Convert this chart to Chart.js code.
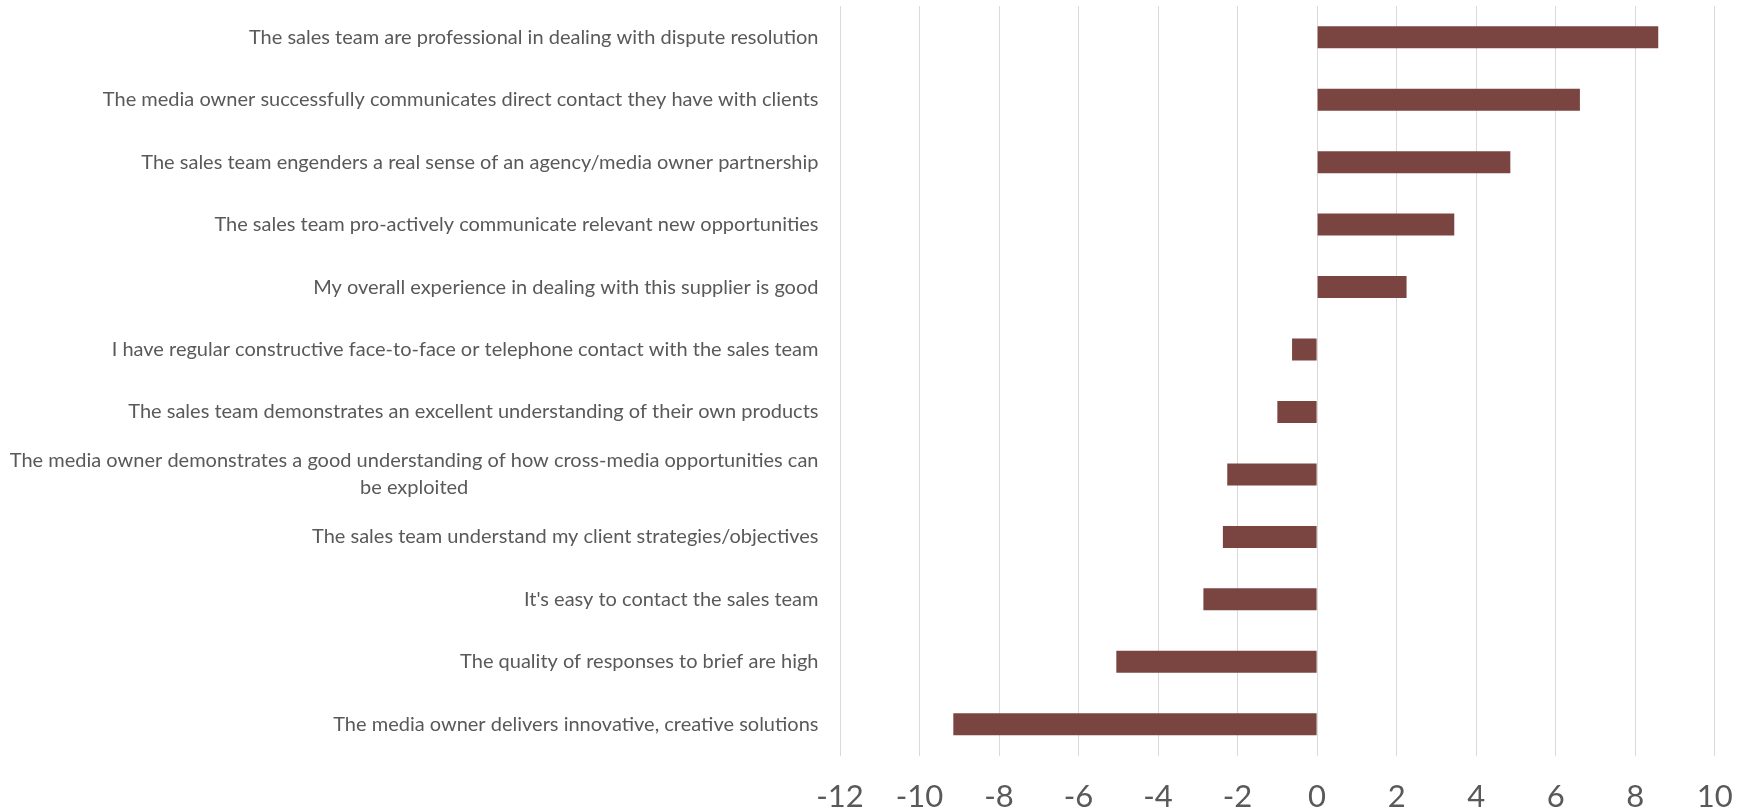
<!DOCTYPE html>
<html>
<head>
<meta charset="utf-8">
<script src="https://cdn.jsdelivr.net/npm/chart.js@4/dist/chart.umd.min.js"></script>
<style>
  html, body { margin: 0; padding: 0; background: #ffffff; }
  #wrap { width: 1743px; height: 812px; }
</style>
</head>
<body>
<div id="wrap"><canvas id="c" width="1743" height="812"></canvas></div>
<script>
// Statements, top to bottom
const statements = [
  "The sales team are professional in dealing with dispute resolution",
  "The media owner successfully communicates direct contact they have with clients",
  "The sales team engenders a real sense of an agency/media owner partnership",
  "The sales team pro-actively communicate relevant new opportunities",
  "My overall experience in dealing with this supplier is good",
  "I have regular constructive face-to-face or telephone contact with the sales team",
  "The sales team demonstrates an excellent understanding of their own products",
  ["The media owner demonstrates a good understanding of how cross-media opportunities can", "be exploited"],
  "The sales team understand my client strategies/objectives",
  "It's easy to contact the sales team",
  "The quality of responses to brief are high",
  "The media owner delivers innovative, creative solutions"
];

// Net score per statement
const scores = [8.58, 6.61, 4.86, 3.45, 2.25, -0.63, -1.0, -2.26, -2.37, -2.86, -5.05, -9.15];

// Value axis range
const axisMin = -12;
const axisMax = 10;
const axisStep = 2;

const FONT = "Lato, 'Open Sans', sans-serif";
const TEXT = '#595959';

// Category labels: right-aligned block, extra lines centred under the first
const labelPlugin = {
  id: 'statementLabels',
  afterDraw(chart) {
    const ctx = chart.ctx;
    const y = chart.scales.y;
    const right = chart.chartArea.left - 21.5;
    const lh = 27;
    ctx.save();
    ctx.font = '20px ' + FONT;
    ctx.fillStyle = TEXT;
    ctx.textBaseline = 'middle';
    ctx.textAlign = 'center';
    statements.forEach((lab, i) => {
      const lines = Array.isArray(lab) ? lab : [lab];
      const w = Math.max(...lines.map(l => ctx.measureText(l).width));
      const cx = right - w / 2;
      const cy = y.getPixelForValue(i);
      const y0 = cy - (lines.length - 1) * lh / 2;
      lines.forEach((l, k) => ctx.fillText(l, cx, y0 + k * lh));
    });
    ctx.restore();
  }
};

new Chart(document.getElementById('c'), {
  type: 'bar',
  data: {
    labels: statements,
    datasets: [{
      data: scores,
      backgroundColor: '#7a4540',
      borderWidth: 0,
      barPercentage: 0.352,
      categoryPercentage: 1.0
    }]
  },
  options: {
    indexAxis: 'y',
    responsive: false,
    animation: false,
    devicePixelRatio: 1,
    layout: { padding: { top: 6, right: 28.3, bottom: 0, left: 0 } },
    plugins: {
      legend: { display: false },
      tooltip: { enabled: false }
    },
    scales: {
      x: {
        min: axisMin,
        max: axisMax,
        border: { display: false },
        grid: { color: '#d9d9d9', lineWidth: 1, drawTicks: false },
        ticks: {
          stepSize: axisStep,
          padding: 23,
          color: TEXT,
          font: { family: FONT, size: 31 },
          maxRotation: 0
        },
        afterFit(scale) {
          scale.height = 56.5;
          scale.paddingLeft = 0;
          scale.paddingRight = 0;
        }
      },
      y: {
        border: { display: false },
        grid: { display: false, drawTicks: false },
        ticks: { display: false },
        afterFit(scale) { scale.width = 840; }
      }
    }
  },
  plugins: [labelPlugin]
});
</script>
</body>
</html>
